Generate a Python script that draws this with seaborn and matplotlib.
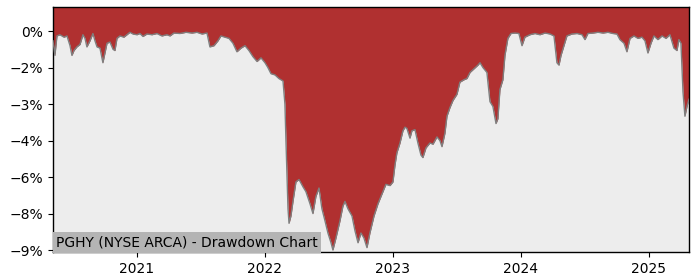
import numpy as np
import pandas as pd
import matplotlib
matplotlib.use("Agg")
import matplotlib.pyplot as plt
import matplotlib.dates as mdates
from matplotlib.ticker import MultipleLocator, PercentFormatter
import seaborn as sns

# decimal-year time stamps
years = [
    2020.344, 2020.359, 2020.375, 2020.398, 2020.430, 2020.453, 2020.477, 2020.492,
    2020.508, 2020.531, 2020.555, 2020.578, 2020.594, 2020.609, 2020.633, 2020.656,
    2020.672, 2020.688, 2020.711, 2020.734, 2020.750, 2020.766, 2020.789, 2020.813,
    2020.828, 2020.844, 2020.867, 2020.898, 2020.922, 2020.945, 2020.969, 2021.000,
    2021.023, 2021.047, 2021.078, 2021.117, 2021.156, 2021.195, 2021.234, 2021.258,
    2021.289, 2021.336, 2021.383, 2021.430, 2021.469, 2021.508, 2021.547, 2021.570,
    2021.602, 2021.633, 2021.656, 2021.688, 2021.719, 2021.750, 2021.781, 2021.813,
    2021.844, 2021.875, 2021.906, 2021.938, 2021.969, 2022.000, 2022.023, 2022.047,
    2022.078, 2022.109, 2022.141, 2022.156, 2022.164, 2022.180, 2022.188, 2022.203,
    2022.219, 2022.242, 2022.266, 2022.297, 2022.320, 2022.352, 2022.375, 2022.398,
    2022.422, 2022.445, 2022.469, 2022.492, 2022.516, 2022.531, 2022.555, 2022.586,
    2022.609, 2022.625, 2022.648, 2022.680, 2022.703, 2022.727, 2022.750, 2022.773,
    2022.797, 2022.820, 2022.852, 2022.883, 2022.914, 2022.945, 2022.977, 2023.000,
    2023.016, 2023.031, 2023.055, 2023.078, 2023.094, 2023.109, 2023.133, 2023.148,
    2023.172, 2023.195, 2023.219, 2023.234, 2023.258, 2023.289, 2023.313, 2023.344,
    2023.367, 2023.383, 2023.406, 2023.422, 2023.445, 2023.469, 2023.500, 2023.523,
    2023.555, 2023.578, 2023.602, 2023.633, 2023.664, 2023.680, 2023.703, 2023.734,
    2023.758, 2023.781, 2023.805, 2023.820, 2023.836, 2023.859, 2023.875, 2023.898,
    2023.922, 2023.953, 2023.984, 2024.008, 2024.031, 2024.070, 2024.109, 2024.148,
    2024.188, 2024.227, 2024.258, 2024.281, 2024.297, 2024.313, 2024.336, 2024.359,
    2024.398, 2024.438, 2024.477, 2024.500, 2024.523, 2024.563, 2024.602, 2024.641,
    2024.680, 2024.719, 2024.750, 2024.773, 2024.805, 2024.828, 2024.852, 2024.883,
    2024.914, 2024.945, 2024.969, 2024.992, 2025.016, 2025.039, 2025.070, 2025.102,
    2025.133, 2025.164, 2025.195, 2025.219, 2025.234, 2025.250, 2025.266, 2025.281,
    2025.297, 2025.313,
]

# drawdown in percent
drawdown = [
    -0.40, -1.00, -0.20, -0.15, -0.25, -0.20, -0.60, -1.00,
    -0.80, -0.65, -0.55, -0.15, -0.30, -0.65, -0.40, -0.10,
    -0.40, -0.65, -0.70, -1.30, -0.90, -0.50, -0.45, -0.75,
    -0.80, -0.30, -0.20, -0.25, -0.15, -0.05, -0.12, -0.15,
    -0.10, -0.22, -0.12, -0.15, -0.10, -0.20, -0.15, -0.20,
    -0.08, -0.10, -0.05, -0.08, -0.05, -0.12, -0.08, -0.65,
    -0.60, -0.40, -0.20, -0.25, -0.30, -0.50, -0.85, -0.70,
    -0.60, -0.80, -1.05, -1.25, -1.10, -1.30, -1.50, -1.75,
    -1.80, -1.95, -2.05, -3.00, -4.50, -7.30, -7.90, -7.60,
    -7.00, -6.20, -6.10, -6.40, -6.60, -7.10, -7.50, -6.80,
    -6.45, -7.30, -7.80, -8.30, -8.70, -9.00, -8.50, -7.80,
    -7.20, -7.00, -7.30, -7.60, -8.20, -8.70, -8.30, -8.50,
    -8.90, -8.30, -7.60, -7.10, -6.70, -6.30, -6.35, -6.20,
    -5.50, -5.00, -4.60, -4.10, -3.95, -4.00, -4.40, -4.10,
    -4.05, -4.60, -5.10, -5.20, -4.80, -4.60, -4.65, -4.35,
    -4.50, -4.75, -4.20, -3.50, -3.15, -2.85, -2.60, -2.10,
    -2.00, -1.95, -1.70, -1.55, -1.40, -1.30, -1.50, -1.70,
    -2.90, -3.10, -3.80, -3.60, -2.40, -2.00, -1.00, -0.30,
    -0.10, -0.08, -0.10, -0.60, -0.25, -0.15, -0.10, -0.15,
    -0.08, -0.12, -0.20, -1.30, -1.40, -1.00, -0.60, -0.20,
    -0.12, -0.10, -0.15, -0.35, -0.10, -0.08, -0.05, -0.08,
    -0.05, -0.10, -0.12, -0.35, -0.50, -0.85, -0.30, -0.20,
    -0.30, -0.25, -0.40, -0.90, -0.50, -0.20, -0.35, -0.20,
    -0.30, -0.15, -0.70, -0.80, -0.35, -0.50, -2.50, -3.50,
    -3.10, -2.80,
]

title_text = "PGHY (NYSE ARCA) - Drawdown Chart"

yr = np.array(years)
dates = pd.Timestamp("2021-01-01") + pd.to_timedelta((yr - 2021.0) * 365.25, unit="D")
df = pd.DataFrame({"date": dates, "drawdown": drawdown})

fig = plt.figure(figsize=(7, 2.8), dpi=100)
ax = fig.add_axes([0.0757, 0.1, 0.9086, 0.875])
ax.set_facecolor("#ededed")

top = 0.99
bottom = -9.08
ax.fill_between(df["date"], df["drawdown"], top, color="#b03030", linewidth=0, zorder=2)
sns.lineplot(data=df, x="date", y="drawdown", ax=ax, color="#7f7f7f", linewidth=1.0, zorder=3)

ax.set_xlim(df["date"].iloc[0], df["date"].iloc[-1])
ax.set_ylim(bottom, top)
ax.yaxis.set_major_locator(MultipleLocator(1.5))
ax.yaxis.set_major_formatter(PercentFormatter(xmax=100, decimals=0))
ax.xaxis.set_major_locator(mdates.YearLocator())
ax.xaxis.set_major_formatter(mdates.DateFormatter("%Y"))
ax.set_xlabel("")
ax.set_ylabel("")
for s in ax.spines.values():
    s.set_color("black")
    s.set_linewidth(1.0)

ax.text(0.005, 0.012, title_text, transform=ax.transAxes, fontsize=10, color="black",
        ha="left", va="bottom", zorder=5,
        bbox=dict(facecolor="#b4b4b4", edgecolor="none", pad=2.5))

fig.savefig("out.png", dpi=100)
